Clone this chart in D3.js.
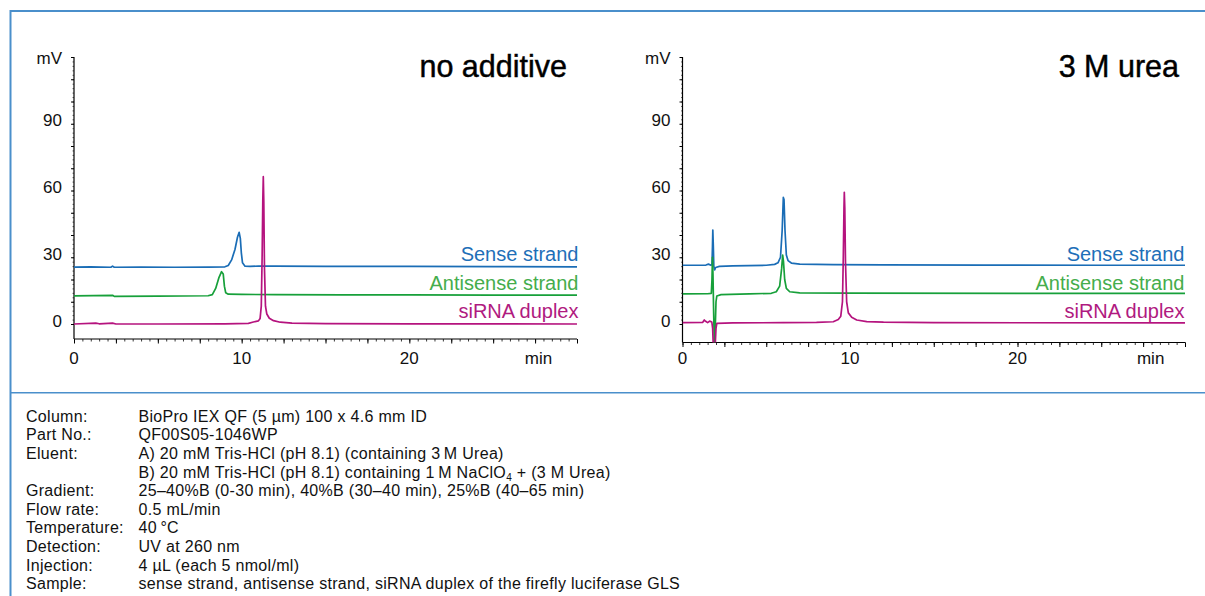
<!DOCTYPE html>
<html><head><meta charset="utf-8">
<script src="https://cdn.jsdelivr.net/npm/d3@7"></script>
<style>
html,body{margin:0;padding:0;background:#fff;}
svg{display:block;font-family:"Liberation Sans",Arial,Helvetica,sans-serif;}
</style></head>
<body>
<svg id="c" width="1205" height="596"></svg>
<script>
// ---------------- data ----------------
const panelTitles = ["no additive", "3 M urea"];
const seriesNames = ["Sense strand", "Antisense strand", "siRNA duplex"];
const timeTickLabels = [0, 10, 20];
const mvTickLabels = [0, 30, 60, 90];
const xUnit = "min";
const yUnit = "mV";

// [time (min), signal (mV)] — no additive
const noAdditiveSense = [[0,25.6],[1.0,25.7],[2.2,25.5],[2.3,26.0],[2.4,25.5],[4,25.6],[6,25.5],[8,25.6],[9.0,25.7],[9.2,26.3],[9.4,28.8],[9.6,33.5],[9.75,39.0],[9.85,41.2],[9.92,38.5],[9.98,32],[10.05,27.5],[10.2,26.0],[10.5,25.9],[11,26.0],[12,26.0],[15,25.9],[20,25.9],[25,25.8],[30,25.7]];
const noAdditiveAntisense = [[0,12.6],[2.3,12.9],[2.4,12.4],[5,12.5],[8.0,12.7],[8.25,13.2],[8.45,16],[8.65,21],[8.8,23.5],[8.9,22.5],[8.97,17],[9.05,14],[9.2,13.4],[10,13.3],[12,13.2],[16,13.1],[20,13.1],[25,13.0],[30,13.0]];
const noAdditiveDuplex = [[0,0],[1.3,0.4],[1.5,0.1],[2.3,0.4],[2.5,0],[5,0],[9,0.1],[10.4,0.3],[10.7,0.9],[11.0,1.4],[11.1,2.5],[11.17,8],[11.22,30],[11.26,55],[11.29,66.2],[11.32,55],[11.36,25],[11.42,8],[11.5,4.5],[11.65,2.6],[11.9,1.5],[12.3,0.8],[13,0.4],[15,0.2],[20,0.1],[30,0]];

// [time (min), signal (mV)] — 3 M urea
const ureaSense = [[0,26.4],[1.4,26.5],[1.55,26.9],[1.7,26.4],[1.76,27],[1.79,35],[1.81,42.2],[1.84,35],[1.87,26],[1.92,24.3],[1.98,25.4],[2.2,25.9],[3,26.1],[5,26.4],[5.5,26.8],[5.7,27.5],[5.85,30],[5.95,42],[6.02,56.9],[6.06,56],[6.12,42],[6.2,31],[6.3,28.5],[6.5,27.4],[7,26.9],[9,26.7],[12,26.6],[18,26.5],[25,26.4],[30,26.4]];
const ureaAntisense = [[0,13.5],[1.5,13.6],[1.72,13.8],[1.76,20],[1.79,30],[1.82,22],[1.86,5],[1.9,-9],[1.95,-3],[2.0,10],[2.05,12.6],[2.3,13.2],[4,13.5],[5.3,13.8],[5.6,14.5],[5.8,17],[5.92,25],[5.98,31.0],[6.03,28],[6.1,20],[6.2,16],[6.4,14.5],[7,14],[10,13.9],[20,13.8],[30,13.8]];
const ureaDuplex = [[0,0.6],[1.2,0.7],[1.3,1.8],[1.38,1.2],[1.5,0.6],[1.62,1.3],[1.75,0.9],[1.8,-2],[1.84,-10],[1.95,-10],[2.0,-2],[2.05,0.3],[3,0.5],[6,0.6],[8,0.7],[9.0,1],[9.3,2],[9.45,3.5],[9.55,10],[9.6,30],[9.64,52],[9.66,59.2],[9.69,52],[9.73,28],[9.8,10],[9.9,5],[10.1,3],[10.4,1.8],[11,1.1],[12,0.8],[15,0.6],[30,0.5]];

const conditionLabels = ["Column:","Part No.:","Eluent:","","Gradient:","Flow rate:","Temperature:","Detection:","Injection:","Sample:"];
const conditionValues = [
  "BioPro IEX QF (5 µm) 100 x 4.6 mm ID",
  "QF00S05-1046WP",
  "A) 20 mM Tris-HCl (pH 8.1) (containing 3\u2009M Urea)",
  "B) 20 mM Tris-HCl (pH 8.1) containing 1\u2009M NaClO|4| + (3 M Urea)",
  "25\u201340%B (0-30 min), 40%B (30\u201340 min), 25%B (40\u201365 min)",
  "0.5 mL/min",
  "40\u2009°C",
  "UV at 260 nm",
  "4 µL (each 5 nmol/ml)",
  "sense strand, antisense strand, siRNA duplex of the firefly luciferase GLS"
];

// ---------------- drawing ----------------
const lineColors = ["#1a6db6", "#17a03a", "#b5137e"];
const textColors = ["#1e6fb8", "#45ad4c", "#b01a80"];
const frameColor = "#4a8fcb";

const svg = d3.select("#c");

// frame
svg.append("line").attr("x1",10).attr("x2",1205).attr("y1",11).attr("y2",11).attr("stroke",frameColor).attr("stroke-width",2);
svg.append("line").attr("x1",10.5).attr("x2",10.5).attr("y1",10).attr("y2",596).attr("stroke",frameColor).attr("stroke-width",2);
svg.append("line").attr("x1",10).attr("x2",1205).attr("y1",392.8).attr("y2",392.8).attr("stroke",frameColor).attr("stroke-width",1.6);

const panels = [
  {x0:74, x1:577, axisY:339, title:panelTitles[0], titleX:567, legendX:578.5, minT:27.7, data:[noAdditiveSense,noAdditiveAntisense,noAdditiveDuplex]},
  {x0:682.5, x1:1185, axisY:342.5, title:panelTitles[1], titleX:1179, legendX:1184.5, minT:27.95, data:[ureaSense,ureaAntisense,ureaDuplex]}
];

const yTop = 57, yZero = 324;
const legendBaselines = [261, 289.5, 318];

panels.forEach((p, pi) => {
  const g = svg.append("g");
  const x = d3.scaleLinear().domain([0,30]).range([p.x0, p.x1]);
  const y = d3.scaleLinear().domain([0,120]).range([yZero, yTop]);
  const yBottomVal = y.invert(p.axisY);

  const cid = "clip" + pi;
  svg.append("clipPath").attr("id", cid).append("rect")
     .attr("x", p.x0).attr("y", yTop - 5).attr("width", p.x1 - p.x0 + 2).attr("height", p.axisY - yTop + 5);

  const yFine = d3.range(0, 121, 2);
  const yMinor = d3.range(0, 121, 10);
  g.append("g").attr("transform", `translate(${p.x0},0)`)
    .call(d3.axisLeft(y).tickValues(yFine).tickSize(1.5).tickFormat(""))
    .call(s => s.select(".domain").remove())
    .call(s => s.selectAll("line").attr("stroke","#444").attr("stroke-width",0.8));
  g.append("g").attr("transform", `translate(${p.x0},0)`)
    .call(d3.axisLeft(y).tickValues(yMinor).tickSize(3).tickFormat(""))
    .call(s => s.select(".domain").remove())
    .call(s => s.selectAll("line").attr("stroke","#000").attr("stroke-width",1));
  g.append("line").attr("x1", p.x0).attr("x2", p.x0).attr("y1", yTop).attr("y2", p.axisY)
    .attr("stroke","#000").attr("stroke-width",1.2);
  g.selectAll("text.ylab").data(mvTickLabels).join("text")
    .attr("x", p.x0 - 12).attr("y", d => y(d) - 3)
    .attr("text-anchor","end").attr("dominant-baseline","central")
    .attr("font-size",17).attr("fill","#111").text(d => d);
  g.append("text").attr("x", p.x0 - 12).attr("y", yTop + 1)
    .attr("text-anchor","end").attr("dominant-baseline","central")
    .attr("font-size",17).attr("fill","#111").text(yUnit);

  const xFine = d3.range(0, 30.01, 0.5);
  const xMid = d3.range(0, 30.01, 2.5);
  g.append("g").attr("transform", `translate(0,${p.axisY})`)
    .call(d3.axisBottom(x).tickValues(xFine).tickSize(2.5).tickFormat(""))
    .call(s => s.select(".domain").remove())
    .call(s => s.selectAll("line").attr("stroke","#222").attr("stroke-width",0.9));
  g.append("g").attr("transform", `translate(0,${p.axisY})`)
    .call(d3.axisBottom(x).tickValues(xMid).tickSize(4.5).tickFormat(""))
    .call(s => s.select(".domain").remove())
    .call(s => s.selectAll("line").attr("stroke","#000").attr("stroke-width",1));
  g.append("line").attr("x1", p.x0).attr("x2", p.x1).attr("y1", p.axisY).attr("y2", p.axisY)
    .attr("stroke","#000").attr("stroke-width",1.2);
  g.selectAll("text.xlab").data(timeTickLabels).join("text")
    .attr("x", d => x(d)).attr("y", 358.5)
    .attr("text-anchor","middle").attr("dominant-baseline","central")
    .attr("font-size",17).attr("fill","#111").text(d => d);
  g.append("text").attr("x", x(p.minT)).attr("y", 358.5)
    .attr("text-anchor","middle").attr("dominant-baseline","central")
    .attr("font-size",17).attr("fill","#111").text(xUnit);

  const line = d3.line().x(d => x(d[0])).y(d => y(Math.max(d[1], yBottomVal - 2)));
  const lg = g.append("g").attr("clip-path", `url(#${cid})`);
  p.data.forEach((ser, si) => {
    lg.append("path").datum(ser).attr("d", line)
      .attr("fill","none").attr("stroke", lineColors[si]).attr("stroke-width",1.7)
      .attr("stroke-linejoin","round");
  });

  seriesNames.forEach((n, si) => {
    g.append("text").attr("x", p.legendX).attr("y", legendBaselines[si])
      .attr("text-anchor","end").attr("font-size",20).attr("fill", textColors[si]).text(n);
  });

  g.append("text").attr("x", p.titleX).attr("y", 77)
    .attr("text-anchor","end").attr("font-size",30.5).attr("fill","#000")
    .attr("stroke","#000").attr("stroke-width",0.45).text(p.title);
});

// conditions block
const condBase = 421.7, condStep = 18.62;
const cg = svg.append("g").attr("font-size",16).attr("letter-spacing",0.3).attr("fill","#111");
conditionLabels.forEach((l, i) => {
  cg.append("text").attr("x", 26).attr("y", condBase + i*condStep).text(l);
});
conditionValues.forEach((v, i) => {
  const t = cg.append("text").attr("x", 138.5).attr("y", condBase + i*condStep);
  const parts = v.split("|");
  parts.forEach((pt, k) => {
    const ts = t.append("tspan").text(pt);
    if (k % 2 === 1) ts.attr("font-size", 10).attr("dy", 3);
    else if (k > 0) ts.attr("dy", -3);
  });
});
</script>
</body></html>
